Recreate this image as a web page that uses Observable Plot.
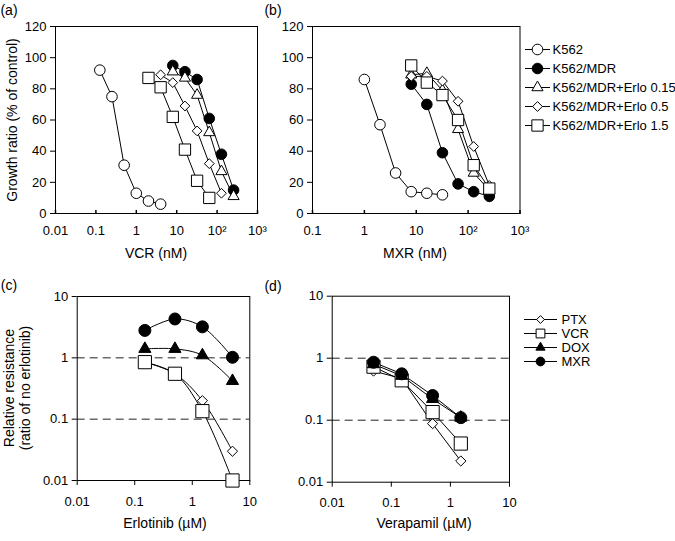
<!DOCTYPE html>
<html><head><meta charset="utf-8">
<script src="https://cdn.jsdelivr.net/npm/d3@7"></script>
<script src="https://cdn.jsdelivr.net/npm/@observablehq/plot@0.6"></script>
<style>
body{margin:0;background:#fff;}
#c{position:relative;width:675px;height:541px;font-family:"Liberation Sans",Arial,Helvetica,sans-serif;color:#000;overflow:hidden;background:#fff}
.p{position:absolute}
.t{position:absolute;font-size:14px;white-space:nowrap;transform:translate(-50%,-50%);line-height:1}
.r{transform:translate(-50%,-50%) rotate(-90deg)}
</style></head><body><div id="c"></div>
<script>
const FONT = '"Liberation Sans", Arial, Helvetica, sans-serif';

// ---------- Panel (a): VCR, growth ratio (% of control)
const aK562_x = [0.125, 0.25, 0.5, 1, 2, 4];
const aK562_y = [92, 75, 31, 13, 8, 6];
const aMDR_x = [8, 16, 32, 64, 128, 256];
const aMDR_y = [95, 91, 86, 61, 38, 15];
const aErlo015_x = [8, 16, 32, 64, 128, 256];
const aErlo015_y = [91, 87, 76, 52, 27, 11];
const aErlo05_x = [4, 8, 16, 32, 64, 128];
const aErlo05_y = [89, 84, 69, 53, 32, 13];
const aErlo15_x = [2, 4, 8, 16, 32, 64];
const aErlo15_y = [87, 81, 62, 41, 21, 10];

// ---------- Panel (b): MXR, growth ratio (% of control)
const bK562_x = [1, 2, 4, 8, 16, 32];
const bK562_y = [86, 57, 26, 14, 13, 12];
const bMDR_x = [8, 16, 32, 64, 128, 256];
const bMDR_y = [83, 70, 39, 19, 14, 11];
const bErlo015_x = [8, 16, 32, 64, 128, 256];
const bErlo015_y = [89, 90, 79, 54, 26, 15];
const bErlo05_x = [8, 16, 32, 64, 128, 256];
const bErlo05_y = [88, 88, 85, 72, 43, 18];
const bErlo15_x = [8, 16, 32, 64, 128, 256];
const bErlo15_y = [95, 84, 76, 60, 31, 16];

const abSeries = ["K562", "K562/MDR", "K562/MDR+Erlo 0.15", "K562/MDR+Erlo 0.5", "K562/MDR+Erlo 1.5"];

const aXTicks = [0.01, 0.1, 1, 10, 100, 1000];
const aXLabels = ["0.01", "0.1", "1", "10", "10²", "10³"];
const bXTicks = [0.1, 1, 10, 100, 1000];
const bXLabels = ["0.1", "1", "10", "10²", "10³"];
const abYTicks = [0, 20, 40, 60, 80, 100, 120];

// ---------- Panel (c): relative resistance vs erlotinib (µM)
const cErlo = [0.15, 0.5, 1.5, 5];
const cPTX = [0.85, 0.55, 0.2, 0.03];
const cVCR = [0.85, 0.55, 0.135, 0.01];
const cDOX = [1.4, 1.4, 1.1, 0.42];
const cMXR = [2.8, 4.3, 3.2, 1.02];

// ---------- Panel (d): relative resistance vs verapamil (µM)
const dVera = [0.05, 0.15, 0.5, 1.5];
const dPTX = [0.62, 0.47, 0.088, 0.022];
const dVCR = [0.73, 0.44, 0.135, 0.042];
const dDOX = [0.8, 0.52, 0.22, 0.11];
const dMXR = [0.86, 0.56, 0.25, 0.11];

const cdSeries = ["PTX", "VCR", "DOX", "MXR"];
const cdXTicks = [0.01, 0.1, 1, 10];
const cdXLabels = ["0.01", "0.1", "1", "10"];
const cdYTicks = [0.01, 0.1, 1, 10];
const cdYLabels = ["0.01", "0.1", "1", "10"];
const cdRefLines = [0.1, 1];

// ---------- styles
const abStyle = {
  "K562": {symbol: d3.symbolCircle, fill: "white", r: 5.3},
  "K562/MDR": {symbol: d3.symbolCircle, fill: "black", r: 5.3},
  "K562/MDR+Erlo 0.15": {symbol: d3.symbolTriangle2, fill: "white", r: 5.3},
  "K562/MDR+Erlo 0.5": {symbol: d3.symbolDiamond2, fill: "white", r: 4.4},
  "K562/MDR+Erlo 1.5": {symbol: d3.symbolSquare2, fill: "white", r: 7.2}
};
const cdStyle = {
  "PTX": {symbol: d3.symbolDiamond2, fill: "white", r: 4.6},
  "VCR": {symbol: d3.symbolSquare2, fill: "white", r: 8.4},
  "DOX": {symbol: d3.symbolTriangle2, fill: "black", r: 5.8},
  "MXR": {symbol: d3.symbolCircle, fill: "black", r: 6}
};
const cdLegendR = {"PTX": 3.5, "VCR": 5.6, "DOX": 4.4, "MXR": 4.4};

function rowsOf(names, xs, ys) {
  return names.flatMap((n, i) => xs[i].map((x, j) => ({series: n, x, y: ys[i][j]})));
}
function fmt(ticks, labels) {
  return d => labels[ticks.findIndex(t => Math.abs(Math.log10(t / d)) < 1e-6)];
}
const tickUp = {draw(ctx) { ctx.moveTo(0, 0.5); ctx.lineTo(0, -3.5); }};

function panel({rows, names, styles, width, height, margin, xDomain, yDomain, yType,
                xTicks, xLabels, yTicks, yLabels, xInward, xTickSize, xTickPad, curve, grid}) {
  const marks = [];
  if (grid) marks.push(Plot.ruleY(grid, {y: d => d, stroke: "#222", strokeWidth: 1, strokeDasharray: "8,5"}));
  marks.push(Plot.frame({stroke: "black", strokeWidth: 1}));
  for (const n of names) {
    const d = rows.filter(r => r.series === n);
    marks.push(Plot.line(d, {x: "x", y: "y", stroke: "black", strokeWidth: 1, curve}));
  }
  for (const n of names) {
    const s = styles[n];
    const d = rows.filter(r => r.series === n);
    marks.push(Plot.dot(d, {x: "x", y: "y", symbol: s.symbol, r: s.r, fill: s.fill, stroke: "black", strokeWidth: 1}));
  }
  marks.push(Plot.axisY({ticks: yTicks, tickFormat: yLabels ? fmt(yTicks, yLabels) : d => String(d), tickSize: 5, tickPadding: 4, label: null}));
  marks.push(Plot.axisX({ticks: xTicks, tickFormat: fmt(xTicks, xLabels), tickSize: xTickSize, tickPadding: xTickPad, label: null}));
  if (xInward) marks.push(Plot.dot(xTicks, {x: d => d, frameAnchor: "bottom", symbol: tickUp, stroke: "black", fill: "none"}));
  return Plot.plot({
    width, height,
    marginLeft: margin[0], marginTop: margin[1], marginRight: margin[2], marginBottom: margin[3],
    x: {type: "log", domain: xDomain, label: null},
    y: {type: yType, domain: yDomain, label: null},
    style: {fontFamily: FONT, fontSize: "13px", color: "black", background: "transparent", overflow: "visible"},
    marks
  });
}

function legend({names, styles, rOverride, width, height, yRange, x1, x2, xm, xt}) {
  const marks = [Plot.ruleY(names, {y: d => d, x1: () => x1, x2: () => x2, stroke: "black", strokeWidth: 1})];
  for (const n of names) {
    const s = styles[n];
    marks.push(Plot.dot([n], {x: () => xm, y: d => d, symbol: s.symbol, r: rOverride ? rOverride[n] : s.r, fill: s.fill, stroke: "black", strokeWidth: 1}));
  }
  marks.push(Plot.text(names, {x: () => xt, y: d => d, text: d => d, textAnchor: "start", fontSize: 13, fill: "black"}));
  return Plot.plot({
    width, height, margin: 0,
    x: {type: "identity", axis: null},
    y: {type: "point", domain: names, range: yRange, axis: null},
    style: {fontFamily: FONT, fontSize: "13px", color: "black", background: "transparent", overflow: "visible"},
    marks
  });
}

const C = document.getElementById("c");
function place(el, left, top) { el.classList.add("p"); el.style.left = left + "px"; el.style.top = top + "px"; C.appendChild(el); }
function label(text, x, y, rotate, size) {
  const d = document.createElement("div");
  d.className = "t" + (rotate ? " r" : "");
  d.textContent = text;
  d.style.left = x + "px"; d.style.top = y + "px";
  if (size) d.style.fontSize = size + "px";
  C.appendChild(d);
}

const aRows = rowsOf(abSeries, [aK562_x, aMDR_x, aErlo015_x, aErlo05_x, aErlo15_x], [aK562_y, aMDR_y, aErlo015_y, aErlo05_y, aErlo15_y]);
const bRows = rowsOf(abSeries, [bK562_x, bMDR_x, bErlo015_x, bErlo05_x, bErlo15_x], [bK562_y, bMDR_y, bErlo015_y, bErlo05_y, bErlo15_y]);
const cRows = rowsOf(cdSeries, [cErlo, cErlo, cErlo, cErlo], [cPTX, cVCR, cDOX, cMXR]);
const dRows = rowsOf(cdSeries, [dVera, dVera, dVera, dVera], [dPTX, dVCR, dDOX, dMXR]);

place(panel({rows: aRows, names: abSeries, styles: abStyle, width: 262, height: 240, margin: [55, 26, 5, 27],
  xDomain: [0.01, 1000], yDomain: [0, 120], yType: "linear", xTicks: aXTicks, xLabels: aXLabels, yTicks: abYTicks,
  xInward: true, xTickSize: 0, xTickPad: 12, curve: "linear"}), 0, 0);
place(panel({rows: bRows, names: abSeries, styles: abStyle, width: 260, height: 240, margin: [50, 26, 2.5, 27],
  xDomain: [0.1, 1000], yDomain: [0, 120], yType: "linear", xTicks: bXTicks, xLabels: bXLabels, yTicks: abYTicks,
  xInward: true, xTickSize: 0, xTickPad: 12, curve: "linear"}), 262, 0);
place(panel({rows: cRows, names: cdSeries, styles: cdStyle, width: 262, height: 281, margin: [76.7, 36, 12.7, 61],
  xDomain: [0.01, 10], yDomain: [0.01, 10], yType: "log", xTicks: cdXTicks, xLabels: cdXLabels, yTicks: cdYTicks, yLabels: cdYLabels,
  xInward: false, xTickSize: 5, xTickPad: 11, curve: "catmull-rom", grid: cdRefLines}), 0, 260);
place(panel({rows: dRows, names: cdSeries, styles: cdStyle, width: 262, height: 281, margin: [69.7, 35.7, 15, 59.3],
  xDomain: [0.01, 10], yDomain: [0.01, 10], yType: "log", xTicks: cdXTicks, xLabels: cdXLabels, yTicks: cdYTicks, yLabels: cdYLabels,
  xInward: false, xTickSize: 5, xTickPad: 11, curve: "linear", grid: cdRefLines}), 262, 260);

place(legend({names: abSeries, styles: abStyle, width: 155, height: 130, yRange: [12.7, 112.3], x1: 5, x2: 30, xm: 17, xt: 32}), 520, 25);
place(legend({names: cdSeries, styles: cdStyle, rOverride: cdLegendR, width: 155, height: 80, yRange: [10.7, 69], x1: 4, x2: 37, xm: 20, xt: 41}), 520, 300);

label("(a)", 9, 10, false, 14);
label("(b)", 273, 10, false, 14);
label("(c)", 9, 285, false, 14);
label("(d)", 273, 286, false, 14);
label("VCR (nM)", 156, 253, false, 14);
label("MXR (nM)", 415, 253, false, 14);
label("Erlotinib (µM)", 165, 523, false, 14);
label("Verapamil (µM)", 424, 523, false, 14);
label("Growth ratio (% of control)", 12, 120, true, 14);
label("Relative resistance", 9, 388, true, 14);
label("(ratio of no erlotinib)", 25, 388, true, 14);
</script></body></html>
